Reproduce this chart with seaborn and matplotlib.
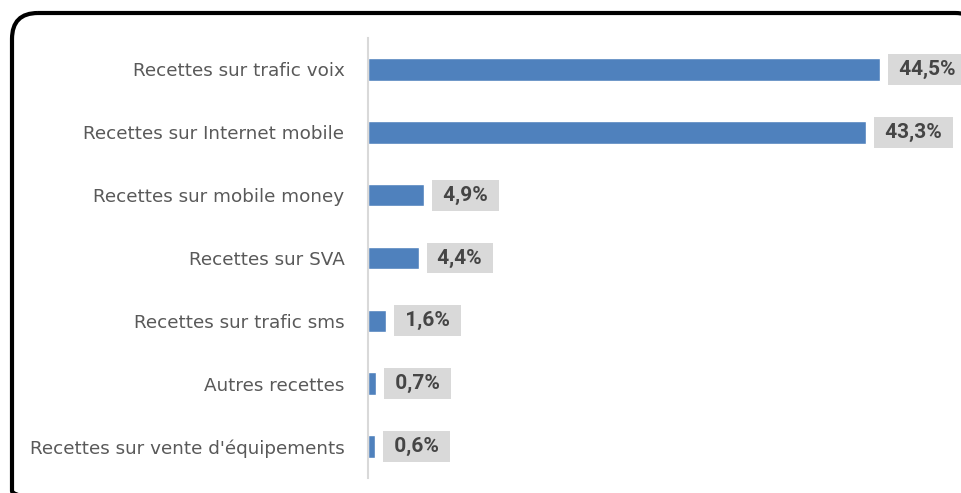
import matplotlib.pyplot as plt
import seaborn as sns
import pandas as pd
from matplotlib.patches import FancyBboxPatch


categories = [
    "Recettes sur trafic voix",
    "Recettes sur Internet mobile",
    "Recettes sur mobile money",
    "Recettes sur SVA",
    "Recettes sur trafic sms",
    "Autres recettes",
    "Recettes sur vente d'équipements"
]

values = [44.5, 43.3, 4.9, 4.4, 1.6, 0.7, 0.6]

df = pd.DataFrame({
    "categorie": categories,
    "part": values
})

sns.set_style("white")

plt.rcParams['font.family'] = ['Roboto', 'DejaVu Sans']

fig = plt.figure(figsize=(9.61, 4.93), dpi=100)

# rounded frame around the chart, partly cut by the picture edge
bg = fig.add_axes([0, 0, 1, 1])
bg.set_xlim(0, 961)
bg.set_ylim(493, 0)
bg.axis("off")

frame = FancyBboxPatch(
    (38, 39),
    917,
    452,
    boxstyle="round,pad=26",
    fill=False,
    edgecolor="black",
    linewidth=3,
    clip_on=False
)
bg.add_patch(frame)

ax = fig.add_axes([368 / 961, 15 / 493, 593 / 961, 440 / 493])

sns.barplot(
    data=df,
    x="part",
    y="categorie",
    color="#4f81bd",
    width=0.36,
    saturation=1,
    ax=ax
)

ax.set_xlim(0, 593 / 11.5)
ax.set_ylim(6.5, -0.5)

for i, v in enumerate(values):

    ax.annotate(
        " " + f"{v:.1f}".replace(".", ",") + "% ",
        xy=(v, i),
        xytext=(10, 0),
        textcoords="offset points",
        va="center",
        ha="left",
        fontsize=15,
        fontweight="bold",
        color="#454545",
        bbox=dict(
            boxstyle="square,pad=0.28",
            facecolor="#d9d9d9",
            edgecolor="none"
        ),
        annotation_clip=False
    )

ax.set_xlabel("")
ax.set_ylabel("")
ax.set_xticks([])

ax.tick_params(axis="y", length=0, pad=17)

for lab in ax.get_yticklabels():
    lab.set_fontfamily("DejaVu Sans")
    lab.set_fontsize(13.2)
    lab.set_color("#595959")

for side in ["top", "right", "bottom"]:
    ax.spines[side].set_visible(False)

ax.spines["left"].set_color("#d9d9d9")
ax.spines["left"].set_linewidth(1.5)

ax.patch.set_alpha(0)

fig.savefig("out.png", dpi=100)
